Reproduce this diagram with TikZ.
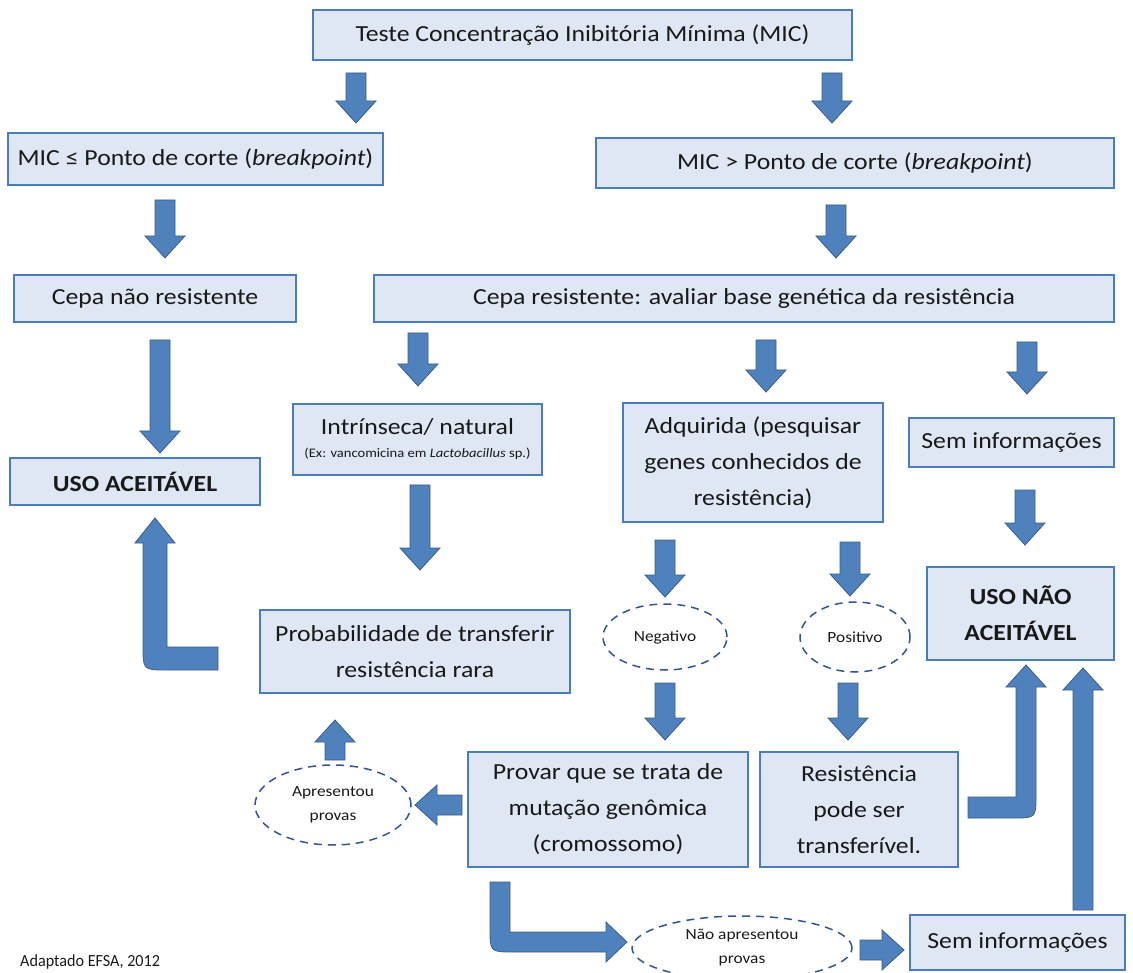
\documentclass[tikz,border=0pt]{standalone}
\usepackage{fontspec}
\setmainfont{Carlito}[FakeStretch=1.12]
\newfontfamily\condfont{Carlito}[FakeStretch=0.95]
\usetikzlibrary{shapes.geometric}
\definecolor{boxfill}{RGB}{222,231,243}
\definecolor{boxedge}{RGB}{74,126,187}
\definecolor{arrowfill}{RGB}{79,129,189}
\definecolor{arrowedge}{RGB}{56,93,138}
\definecolor{ovaledge}{RGB}{47,85,151}
\definecolor{txt}{RGB}{25,25,25}
\tikzset{
 box/.style={draw=boxedge, fill=boxfill, line width=1.5pt, inner sep=2pt, align=center, text=txt, font=\fontsize{23}{36}\selectfont},
 oval/.style={ellipse, draw=ovaledge, line width=1.5pt, dash pattern=on 8pt off 6pt, align=center, text=txt, font=\fontsize{15.5}{24}\selectfont, inner sep=0pt},
 barrow/.style={fill=arrowfill, draw=arrowedge, line width=0.8pt, line join=miter},
}
\newcommand{\myDown}[3]{\filldraw[barrow] ({#1-10},#2) -- ({#1+10},#2) -- ({#1+10},{#3-22}) -- ({#1+20},{#3-22}) -- (#1,#3) -- ({#1-20},{#3-22}) -- ({#1-10},{#3-22}) -- cycle;}
\newcommand{\myUp}[3]{\filldraw[barrow] ({#1-10},#2) -- ({#1-10},{#3+22}) -- ({#1-20},{#3+22}) -- (#1,#3) -- ({#1+20},{#3+22}) -- ({#1+10},{#3+22}) -- ({#1+10},#2) -- cycle;}
\newcommand{\myLeft}[3]{\filldraw[barrow] (#2,{#1-10}) -- ({#3+22},{#1-10}) -- ({#3+22},{#1-20}) -- (#3,#1) -- ({#3+22},{#1+20}) -- ({#3+22},{#1+10}) -- (#2,{#1+10}) -- cycle;}
\newcommand{\myRight}[3]{\filldraw[barrow] (#2,{#1-10}) -- ({#3-22},{#1-10}) -- ({#3-22},{#1-20}) -- (#3,#1) -- ({#3-22},{#1+20}) -- ({#3-22},{#1+10}) -- (#2,{#1+10}) -- cycle;}
\begin{document}
\begin{tikzpicture}[x=1pt,y=-1pt]
\useasboundingbox (0,0) rectangle (1133,973);
% boxes
\node[box, minimum width=539pt, minimum height=50pt] (top) at (582.5,35) {Teste Concentração Inibitória Mínima (MIC)};
\node[box, minimum width=375pt, minimum height=52pt] (le) at (195.5,159) {MIC ≤ Ponto de corte (\textit{breakpoint})};
\node[box, minimum width=518pt, minimum height=50pt] (gt) at (855,163) {MIC > Ponto de corte (\textit{breakpoint})};
\node[box, minimum width=282pt, minimum height=47pt] (cnr) at (155,298.5) {Cepa não resistente};
\node[box, minimum width=740pt, minimum height=47pt] (cr) at (744,298.5) {Cepa resistente: avaliar base genética da resistência};
\node[box, minimum width=249pt, minimum height=71pt] (intr) at (417.5,439.5) {Intrínseca/ natural\\[-13pt]{\fontsize{13}{15}\selectfont (Ex: vancomicina em \textit{Lactobacillus} sp.)}};
\node[box, minimum width=260pt, minimum height=119pt] (adq) at (753,462.5) {Adquirida (pesquisar\\genes conhecidos de\\resistência)};
\node[box, minimum width=205pt, minimum height=49pt] (sem1) at (1011.5,442.5) {Sem informações};
\node[box, minimum width=250pt, minimum height=47pt, font=\fontsize{23}{36}\selectfont\bfseries] (ua) at (135,481.5) {USO ACEITÁVEL};
\node[box, minimum width=310pt, minimum height=83pt] (prob) at (415,651.5) {Probabilidade de transferir\\resistência rara};
\node[box, minimum width=187pt, minimum height=93pt, font=\fontsize{23}{36}\selectfont\bfseries] (una) at (1020.5,613.5) {USO NÃO\\ACEITÁVEL};
\node[box, minimum width=280pt, minimum height=115pt] (prov) at (608,809.5) {Provar que se trata de\\mutação genômica\\(cromossomo)};
\node[box, minimum width=198pt, minimum height=115pt] (res) at (859,809.5) {Resistência\\pode ser\\transferível.};
\node[box, minimum width=215pt, minimum height=55pt] (sem2) at (1017.5,942.5) {Sem informações};
% ovals
\node[oval, minimum width=124pt, minimum height=66pt] (neg) at (665,637) {Negativo};
\node[oval, minimum width=110pt, minimum height=70pt] (pos) at (855,637) {Positivo};
\node[oval, minimum width=156pt, minimum height=80pt] (apr) at (333,805) {Apresentou\\provas};
\node[oval, minimum width=220pt, minimum height=64pt] (nao) at (742,948) {Não apresentou\\provas};
\node[anchor=west, font=\condfont\fontsize{17}{19}\selectfont, text=txt, inner sep=0pt] (src) at (20,962) {Adaptado EFSA, 2012};
% straight block arrows
\myDown{356}{73}{123}
\myDown{832}{73}{123}
\myDown{165}{200}{258}
\myDown{836}{205}{258}
\myDown{160}{340}{453}
\myDown{418}{333}{386}
\myDown{766}{340}{392}
\myDown{1027}{342}{394}
\myDown{420}{485}{570}
\myDown{1025}{490}{545}
\myDown{665}{540}{597}
\myDown{850}{542}{596}
\myDown{665}{683}{740}
\myDown{848}{683}{740}
\myUp{335}{760}{720}
\myLeft{805}{462}{415}
\myRight{950}{860}{904}
\myUp{1083}{910}{668}
% bent arrows
\filldraw[barrow] (218,647) -- (167,647) -- (167,543) -- (175,543) -- (155,518) -- (135,543) -- (143,543) -- (143,646) .. controls (143,670) .. (167,670) -- (218,670) -- cycle;
\filldraw[barrow] (968,797) -- (1016,797) -- (1016,687) -- (1006,687) -- (1026,665) -- (1046,687) -- (1036,687) -- (1036,795) .. controls (1036,818) .. (1013,818) -- (968,818) -- cycle;
\filldraw[barrow] (490,882) -- (510,882) -- (510,932) -- (606,932) -- (606,922) -- (627,942) -- (606,962) -- (606,952) -- (514,952) .. controls (490,952) .. (490,928) -- cycle;
\end{tikzpicture}
\end{document}
